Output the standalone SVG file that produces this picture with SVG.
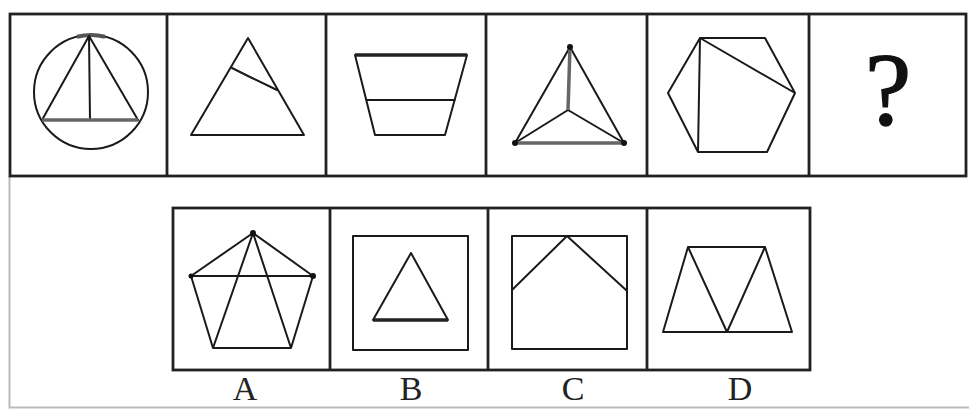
<svg xmlns="http://www.w3.org/2000/svg" width="969" height="409" viewBox="0 0 969 409">
<style>
.frame{fill:none;stroke:#222;stroke-width:2.8}
.s{fill:none;stroke:#1a1a1a;stroke-width:2;stroke-linejoin:round;stroke-linecap:round}
.g{stroke:#666;stroke-width:3.5}
.dot{fill:#111}
.lbl{font-family:"Liberation Serif","Times New Roman",serif;font-size:34px;fill:#222;text-anchor:middle}
</style>
<rect x="0" y="0" width="969" height="409" fill="#fff"/>
<path d="M9.5,176 V407.5 H969" fill="none" stroke="#bbb" stroke-width="2"/>
<g id="top-row">
<rect class="frame" x="10" y="14" width="956" height="162"/>
<line class="frame" x1="167" y1="14" x2="167" y2="176"/>
<line class="frame" x1="326" y1="14" x2="326" y2="176"/>
<line class="frame" x1="486" y1="14" x2="486" y2="176"/>
<line class="frame" x1="647" y1="14" x2="647" y2="176"/>
<line class="frame" x1="809" y1="14" x2="809" y2="176"/>
</g>
<g id="fig1">
<circle class="s" cx="91" cy="92" r="57"/>
<path d="M77,36.7 A57,57 0 0 1 105,36.7" fill="none" stroke="#555" stroke-width="4"/>
<path class="s" d="M89,36 L42,120 M89,36 L138,120 M89,36 L90,120"/>
<line class="g" x1="42" y1="120" x2="138" y2="120"/>
</g>
<g id="fig2">
<path class="s" d="M248,38 L191,135 L304,135 Z M232,68 L250,77 L277,90"/>
</g>
<g id="fig3">
<path class="s" d="M355,55 L375,135 L445,135 L467,55 M366,100 L455,100"/>
<line x1="355" y1="55" x2="467" y2="55" stroke="#222" stroke-width="3.5"/>
</g>
<g id="fig4">
<path class="s" d="M570,47 L515,143 M570,47 L624,143 M568,110 L515,143 M568,110 L624,143"/>
<line class="g" x1="570" y1="47" x2="568" y2="110"/>
<line class="g" x1="515" y1="143" x2="624" y2="143"/>
<circle class="dot" cx="570" cy="47" r="3"/>
<circle class="dot" cx="515" cy="143" r="3"/>
<circle class="dot" cx="624" cy="143" r="3"/>
</g>
<g id="fig5">
<path class="s" d="M700,38 L765,38 L795,93 L767,152 L698,152 L668,93 Z M700,38 L698,152 M700,38 L795,93"/>
</g>
<g id="fig6">
<text x="888" y="125" font-family="Liberation Serif,serif" font-size="104" text-anchor="middle" fill="#111" stroke="#111" stroke-width="1.5">?</text>
</g>
<g id="bottom-row">
<rect class="frame" x="173" y="208" width="637" height="162"/>
<line class="frame" x1="330" y1="208" x2="330" y2="370"/>
<line class="frame" x1="488" y1="208" x2="488" y2="370"/>
<line class="frame" x1="647" y1="208" x2="647" y2="370"/>
</g>
<g id="optA">
<path class="s" d="M253,233 L191,276 L213,348 L291,348 L313,276 Z M191,276 L313,276 M253,233 L213,348 M253,233 L291,348"/>
<circle class="dot" cx="253" cy="233" r="3"/>
<circle class="dot" cx="191" cy="276" r="2.5"/>
<circle class="dot" cx="313" cy="276" r="3"/>
<text class="lbl" x="245" y="400">A</text>
</g>
<g id="optB">
<rect class="s" x="353" y="236" width="115" height="114"/>
<path class="s" d="M411,253 L373,320 L448,320 Z"/>
<line x1="373" y1="320" x2="448" y2="320" stroke="#222" stroke-width="3.5"/>
<text class="lbl" x="411" y="400">B</text>
</g>
<g id="optC">
<rect class="s" x="512" y="236" width="115" height="113"/>
<path class="s" d="M512,290 L567,236 L626,290"/>
<text class="lbl" x="573" y="400">C</text>
</g>
<g id="optD">
<path class="s" d="M688,247 L765,247 M663,332 L792,332 M663,332 L688,247 L727,332 L765,247 L792,332"/>
<text class="lbl" x="740" y="400">D</text>
</g>
</svg>
